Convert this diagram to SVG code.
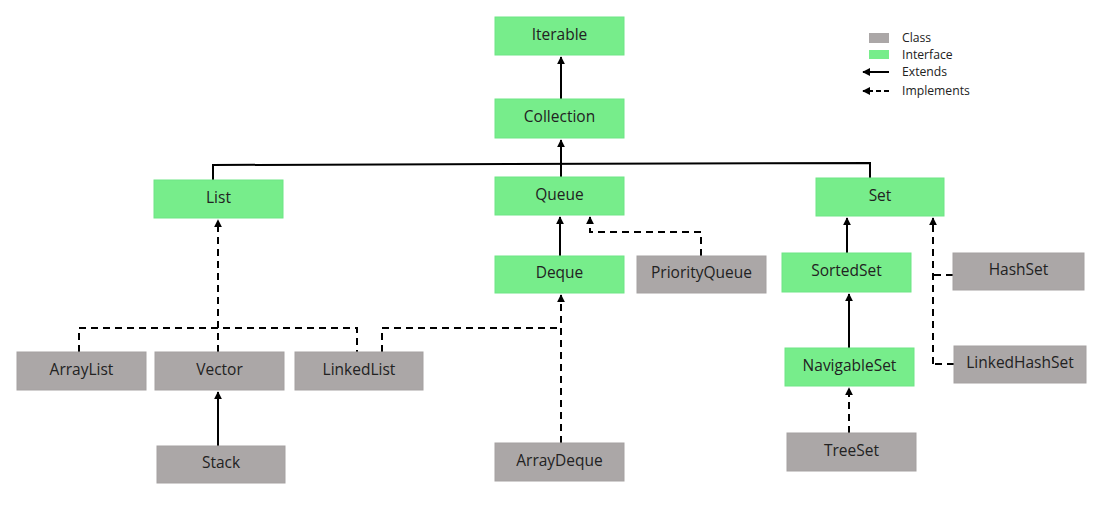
<svg xmlns="http://www.w3.org/2000/svg" width="1102" height="510" viewBox="0 0 1102 510">
<defs>
<marker id="ah" viewBox="0 0 10 10" refX="9" refY="5" markerWidth="4" markerHeight="4" orient="auto" markerUnits="strokeWidth">
<path d="M0,0 L10,5 L0,10 z" fill="#000"/>
</marker>
<style>
.i{fill:#77ED8B;stroke:#6FE585;stroke-width:1}
.c{fill:#ABA7A7;stroke:#A5A1A1;stroke-width:1}
.t{font-family:"Open Sans","DejaVu Sans",sans-serif;font-size:15.5px;fill:#222;text-anchor:middle}
.lg{font-family:"Open Sans","DejaVu Sans",sans-serif;font-size:12.2px;fill:#222}
.s{fill:none;stroke:#000;stroke-width:2}
.d{fill:none;stroke:#000;stroke-width:2;stroke-dasharray:7,5}
</style>
</defs>
<rect width="1102" height="510" fill="#fff"/>
<g id="connectors">
<path class="s" d="M561,99 V57" marker-end="url(#ah)"/>
<path class="s" d="M561,177 V140" marker-end="url(#ah)"/>
<path class="s" d="M213,180 V165 L870,163 V178"/>
<path class="s" d="M560,256 V217" marker-end="url(#ah)"/>
<path class="d" d="M701,256 V232 H590 V217" marker-end="url(#ah)"/>
<path class="d" d="M218,352 V220" marker-end="url(#ah)"/>
<path class="d" d="M79,352 V328 H357 V352"/>
<path class="d" d="M382,352 V328 H561"/>
<path class="d" d="M561,443 V295" marker-end="url(#ah)"/>
<path class="s" d="M218,446 V392" marker-end="url(#ah)"/>
<path class="s" d="M847,253 V218" marker-end="url(#ah)"/>
<path class="s" d="M849,348 V294" marker-end="url(#ah)"/>
<path class="d" d="M849,433 V388" marker-end="url(#ah)"/>
<path class="d" d="M933,364 V218" marker-end="url(#ah)"/>
<path class="d" d="M953,275 H933"/>
<path class="d" d="M954,364 H933"/>
</g>
<g id="Iterable"><rect class="i" x="495" y="17" width="129" height="38"/><text class="t" x="559.5" y="39.5">Iterable</text></g>
<g id="Collection"><rect class="i" x="495" y="99" width="129" height="39"/><text class="t" x="559.5" y="122">Collection</text></g>
<g id="List"><rect class="i" x="154" y="180" width="129" height="38"/><text class="t" x="218.5" y="202.5">List</text></g>
<g id="Queue"><rect class="i" x="495" y="177" width="129" height="38"/><text class="t" x="559.5" y="199.5">Queue</text></g>
<g id="Set"><rect class="i" x="816" y="178" width="128" height="38"/><text class="t" x="880" y="200.5">Set</text></g>
<g id="Deque"><rect class="i" x="495" y="256" width="129" height="37"/><text class="t" x="559.5" y="278">Deque</text></g>
<g id="PriorityQueue"><rect class="c" x="637" y="256" width="129" height="37"/><text class="t" x="701.5" y="278">PriorityQueue</text></g>
<g id="SortedSet"><rect class="i" x="782" y="253" width="129" height="39"/><text class="t" x="846.5" y="276">SortedSet</text></g>
<g id="HashSet"><rect class="c" x="953" y="253" width="131" height="37"/><text class="t" x="1018.5" y="275">HashSet</text></g>
<g id="ArrayList"><rect class="c" x="17" y="352" width="129" height="38"/><text class="t" x="81.5" y="374.5">ArrayList</text></g>
<g id="Vector"><rect class="c" x="155" y="352" width="129" height="38"/><text class="t" x="219.5" y="374.5">Vector</text></g>
<g id="LinkedList"><rect class="c" x="295" y="352" width="128" height="38"/><text class="t" x="359" y="374.5">LinkedList</text></g>
<g id="NavigableSet"><rect class="i" x="785" y="348" width="129" height="38"/><text class="t" x="849.5" y="370.5">NavigableSet</text></g>
<g id="LinkedHashSet"><rect class="c" x="954" y="346" width="132" height="37"/><text class="t" x="1020" y="368">LinkedHashSet</text></g>
<g id="Stack"><rect class="c" x="157" y="446" width="128" height="37"/><text class="t" x="221" y="468">Stack</text></g>
<g id="ArrayDeque"><rect class="c" x="495" y="443" width="129" height="38"/><text class="t" x="559.5" y="465.5">ArrayDeque</text></g>
<g id="TreeSet"><rect class="c" x="787" y="433" width="129" height="38"/><text class="t" x="851.5" y="455.5">TreeSet</text></g>
<g id="legend">
<rect x="869" y="33" width="20" height="10" fill="#ABA7A7"/>
<text class="lg" x="902" y="42">Class</text>
<rect x="869" y="50" width="20" height="9" fill="#77ED8B"/>
<text class="lg" x="902" y="59">Interface</text>
<path d="M889,72 H863" stroke="#000" stroke-width="2" marker-end="url(#ah)"/>
<text class="lg" x="902" y="76">Extends</text>
<path d="M889,91 H863" stroke="#000" stroke-width="2" stroke-dasharray="5,3" marker-end="url(#ah)"/>
<text class="lg" x="902" y="95">Implements</text>
</g>
</svg>
